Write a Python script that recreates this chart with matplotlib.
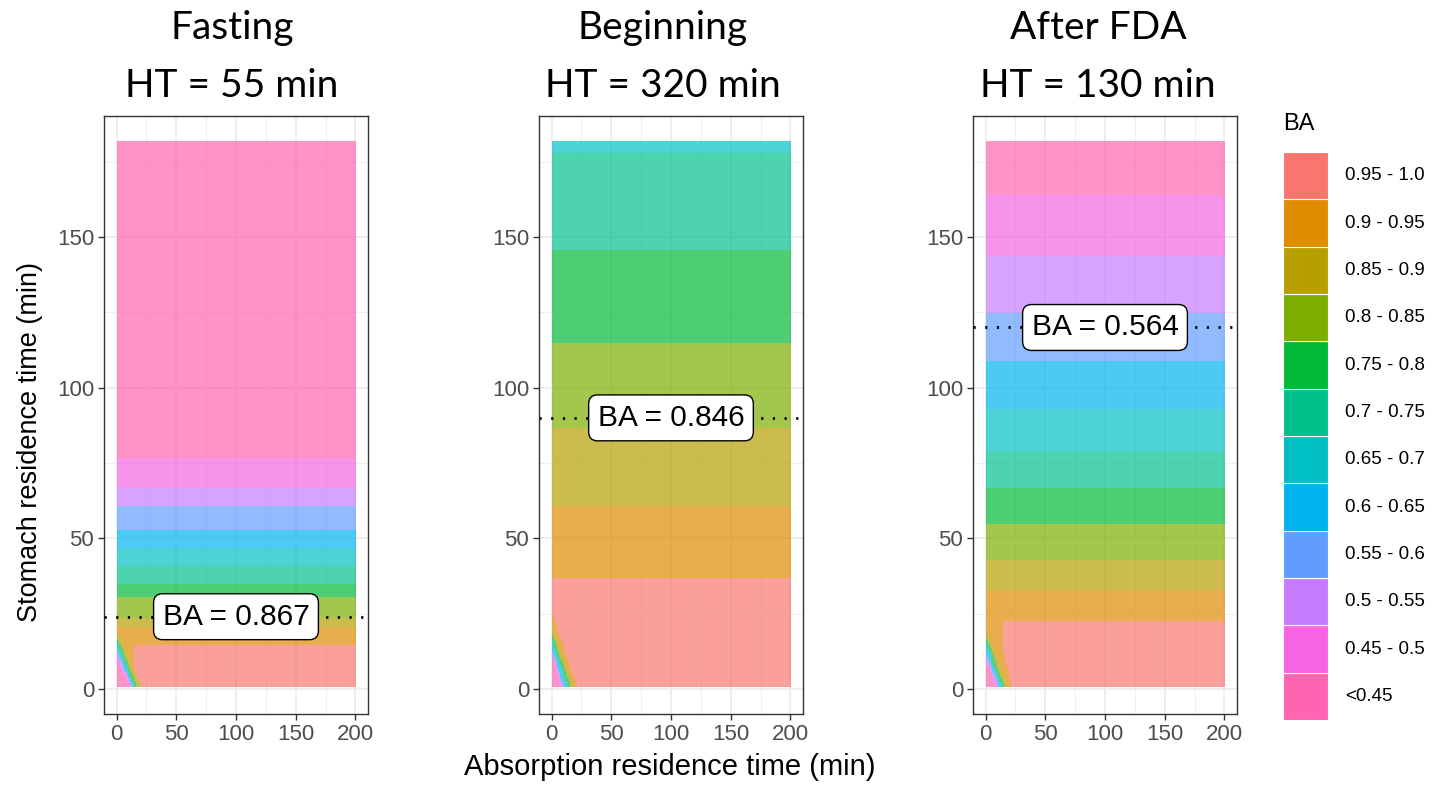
import numpy as np
import matplotlib
matplotlib.use("Agg")
import matplotlib.pyplot as plt
from matplotlib.patches import Rectangle
from matplotlib.ticker import MultipleLocator

plt.rcParams['font.family'] = ['Liberation Sans', 'DejaVu Sans']

# --- BA classes (low -> high) ---
ba_labels = ["<0.45", "0.45 - 0.5", "0.5 - 0.55", "0.55 - 0.6", "0.6 - 0.65", "0.65 - 0.7",
             "0.7 - 0.75", "0.75 - 0.8", "0.8 - 0.85", "0.85 - 0.9", "0.9 - 0.95", "0.95 - 1.0"]
ba_colors = ["#FF64B0", "#F564E3", "#C77CFF", "#619CFF", "#00B4F0", "#00BFC4",
             "#00C08B", "#00BA38", "#7CAE00", "#B79F00", "#DE8C00", "#F8766D"]

titles = ["Fasting", "Beginning", "After FDA"]
ht_min = [55, 320, 130]

# horizontal bands: class of each band (bottom -> top) and its upper edge (stomach time, min)
fasting_cls = [11, 10, 9, 8, 7, 6, 5, 4, 3, 2, 1, 0]
fasting_top = [14.6, 20.7, 24.0, 30.6, 34.8, 40.8, 47.0, 52.8, 60.8, 66.9, 76.9, 181.5]
beginning_cls = [11, 10, 9, 8, 7, 6, 5]
beginning_top = [36.7, 60.7, 86.9, 114.9, 145.1, 177.1, 181.5]
afterfda_cls = [11, 10, 9, 8, 7, 6, 5, 4, 3, 2, 1, 0]
afterfda_top = [22.6, 32.6, 42.8, 54.8, 66.8, 79.0, 92.8, 109.0, 125.0, 143.3, 163.1, 181.5]

# low-BA corner near the origin: stripe k lies below the line x/a + y/b = 1 (classes 0..10)
fasting_corner_a = [11.5, 12.2, 12.9, 13.6, 14.3, 15.0, 15.8, 17.0, 18.2, 19.6, 21.4]
fasting_corner_b = [9.6, 10.8, 12.0, 13.2, 14.3, 15.3, 16.3, 17.3, 18.3, 19.5, 20.7]
beginning_corner_a = [7.8, 8.7, 9.6, 10.6, 12.0, 13.3, 14.8, 16.1, 17.3, 18.5, 21.6]
beginning_corner_b = [10.8, 11.7, 12.6, 13.6, 14.8, 15.8, 16.8, 17.8, 18.8, 20.5, 25.1]
afterfda_corner_a = [9.0, 9.8, 10.6, 11.4, 12.4, 13.4, 14.4, 15.5, 16.7, 18.5, 22.0]
afterfda_corner_b = [9.0, 10.2, 11.4, 12.6, 13.8, 15.0, 16.2, 17.4, 18.5, 19.6, 35.9]
# block of 0.9-0.95 left of the 0.95-1.0 region (x limit, y limit)
corner_block = [(14.4, 14.6), (0.0, 0.0), (13.9, 22.6)]

ba_value = [0.867, 0.846, 0.564]
ba_line_y = [24, 90, 120]

panels = [
    (fasting_cls, fasting_top, fasting_corner_a, fasting_corner_b),
    (beginning_cls, beginning_top, beginning_corner_a, beginning_corner_b),
    (afterfda_cls, afterfda_top, afterfda_corner_a, afterfda_corner_b),
]

# tile grid
xc = np.arange(0.5, 200, 1.0)
yc = np.arange(1.0, 181.6, 1.0)
X, Y = np.meshgrid(xc, yc)
rgb_table = np.array([matplotlib.colors.to_rgb(c) for c in ba_colors])

W, H, DPI = 1450, 785, 100
fig = plt.figure(figsize=(W / DPI, H / DPI), dpi=DPI)

lefts = [104, 539, 973]
ax_w, ax_top, ax_bot = 264, 116, 714
title_cx = [232, 663, 1098]

for i, (cls_list, top_list, ca, cb) in enumerate(panels):
    ax = fig.add_axes([lefts[i] / W, (H - ax_bot) / H, ax_w / W, (ax_bot - ax_top) / H])

    idx = np.searchsorted(np.array(top_list), Y, side="right")
    idx = np.clip(idx, 0, len(cls_list) - 1)
    cls = np.array(cls_list)[idx]
    bx, by = corner_block[i]
    cls = np.where((X < bx) & (Y < by), np.minimum(cls, 10), cls)
    for k in range(10, -1, -1):
        inside = X / ca[k] + Y / cb[k] < 1
        cls = np.where(inside, np.minimum(cls, k), cls)

    ax.imshow(rgb_table[cls], extent=(0, 200, 0.5, 181.5), origin="lower", aspect="auto",
              alpha=0.7, interpolation="nearest", zorder=1)

    ax.axhline(ba_line_y[i], color="black", lw=2.0, linestyle=(0, (0.8, 3.4)), zorder=3)
    ax.text(100, ba_line_y[i], f"BA = {ba_value[i]}", ha="center", va="center", fontsize=21.5,
            zorder=4, bbox=dict(boxstyle="round,pad=0.3,rounding_size=0.3", fc="white",
                                ec="black", lw=1.0))

    ax.set_xlim(-10.5, 210.5)
    ax.set_ylim(-8.3, 190.2)
    ax.xaxis.set_major_locator(MultipleLocator(50))
    ax.xaxis.set_minor_locator(MultipleLocator(25))
    ax.yaxis.set_major_locator(MultipleLocator(50))
    ax.yaxis.set_minor_locator(MultipleLocator(25))
    ax.set_axisbelow(True)
    ax.grid(which="major", color="#EBEBEB", lw=1.2)
    ax.grid(which="minor", color="#EBEBEB", lw=0.6)
    ax.tick_params(which="major", length=4, width=1, color="#333333", labelcolor="#4D4D4D",
                   labelsize=16, pad=3)
    ax.tick_params(which="minor", length=0)
    for s in ax.spines.values():
        s.set_color("#333333")
        s.set_linewidth(1.0)

    fig.text(title_cx[i] / W, 1 - 39 / H, titles[i], ha="center", va="baseline",
             fontsize=28, family=["Lato", "DejaVu Sans"])
    fig.text(title_cx[i] / W, 1 - 97 / H, f"HT = {ht_min[i]} min", ha="center",
             va="baseline", fontsize=28, family=["Lato", "DejaVu Sans"])

fig.text(30 / W, 1 - 442 / H, "Stomach residence time (min)", rotation=90,
         ha="center", va="center", fontsize=19.5)
fig.text(670 / W, 1 - 767 / H, "Absorption residence time (min)", ha="center",
         va="center", fontsize=21)

# legend
lg = fig.add_axes([1283 / W, (H - 720) / H, 45 / W, 568 / H])
lg.set_xlim(0, 1)
lg.set_ylim(0, len(ba_colors))
lg.axis("off")
for k, (c, lab) in enumerate(zip(ba_colors, ba_labels)):
    lg.add_patch(Rectangle((0, k), 1, 1, facecolor=c, edgecolor="white", lw=0.8))
    lg.text(62 / 45, k + 0.5, lab, ha="left", va="center", fontsize=13.5, color="black")
fig.text(1283 / W, 1 - 124 / H, "BA", ha="left", va="center", fontsize=17)

fig.savefig("out.png", dpi=DPI)
